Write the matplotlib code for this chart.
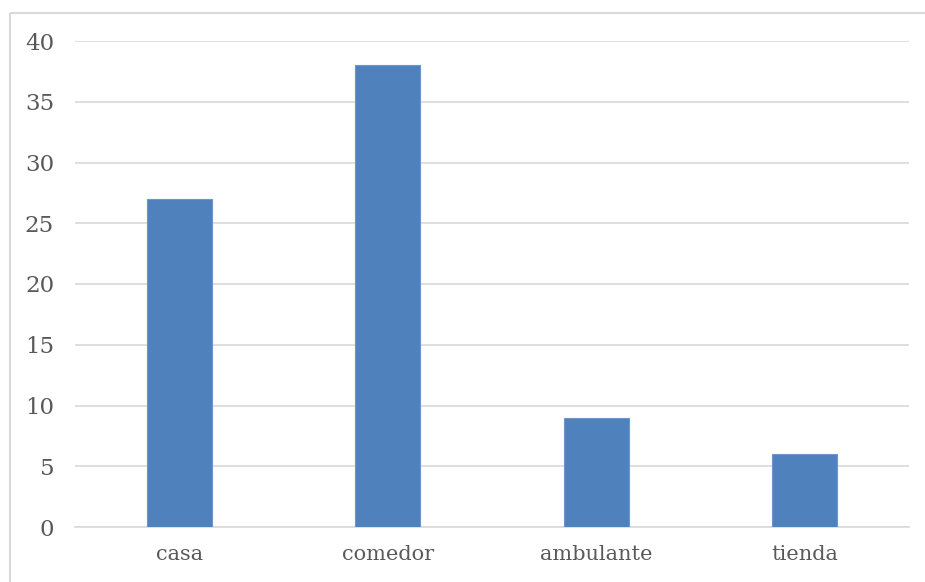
import matplotlib
matplotlib.use("Agg")
import matplotlib.pyplot as plt
from matplotlib.lines import Line2D

categories = ["casa", "comedor", "ambulante", "tienda"]
values = [27, 38, 9, 6]
y_ticks = [0, 5, 10, 15, 20, 25, 30, 35, 40]

W, H = 925, 582
fig = plt.figure(figsize=(W / 100, H / 100), dpi=100)
plt.rcParams["font.family"] = ["DejaVu Serif", "Liberation Serif"]

# outer chart frame: left and top edges (right and bottom run off the canvas)
fx, fy = 9.5 / W, 1 - 12.5 / H
fig.add_artist(Line2D([fx, fx], [0, fy], transform=fig.transFigure,
                      color="#D9D9D9", linewidth=1.5, solid_capstyle="butt"))
fig.add_artist(Line2D([fx, 1.0], [fy, fy], transform=fig.transFigure,
                      color="#D9D9D9", linewidth=1.5, solid_capstyle="butt"))

left, right, bottom, top = 75 / W, 909 / W, 1 - 527 / H, 1 - 41 / H
ax = fig.add_axes([left, bottom, right - left, top - bottom])

x = list(range(len(categories)))
ax.bar(x, values, width=0.31, color="#4F81BD", edgecolor="#6C95C9", linewidth=0.8, zorder=3)

ax.set_xlim(-0.5, len(categories) - 0.5)
ax.set_ylim(0, 40)
ax.set_yticks(y_ticks)
ax.set_xticks(x)
ax.set_xticklabels(categories)
ax.grid(axis="y", color="#D9D9D9", linewidth=1.2, zorder=0)
for s in ["top", "right", "left"]:
    ax.spines[s].set_visible(False)
ax.spines["bottom"].set_color("#D9D9D9")
ax.spines["bottom"].set_linewidth(1.2)
ax.tick_params(axis="both", length=0, colors="#595959")
ax.tick_params(axis="y", pad=15, labelsize=16.5)
ax.tick_params(axis="x", pad=13, labelsize=15)

fig.savefig("out.png", dpi=100)
